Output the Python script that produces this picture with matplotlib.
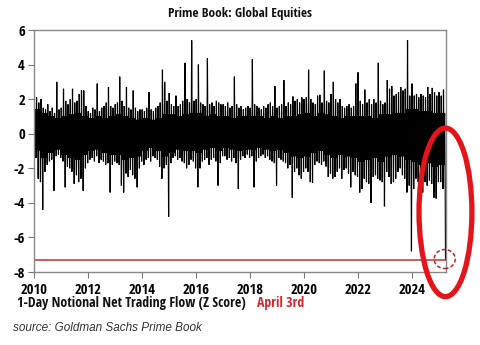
import matplotlib
matplotlib.use("Agg")
import matplotlib.pyplot as plt
import matplotlib.font_manager as fm
from matplotlib.patches import Ellipse

# ---- data: monthly high / low extremes of the daily z-score ----
years = list(range(2010, 2026))
month_hi = {
    2010: [1.6, 2.1, 1.8, 2.0, 1.5, 1.4, 1.7, 1.3, 1.5, 1.2, 3.0, 1.4],
    2011: [1.5, 2.6, 1.9, 1.7, 2.0, 2.6, 1.8, 1.9, 2.3, 2.5, 2.5, 1.6],
    2012: [1.3, 1.2, 1.5, 1.4, 2.9, 1.3, 1.5, 1.6, 1.8, 2.7, 1.6, 1.5],
    2013: [1.7, 1.8, 3.3, 1.9, 1.6, 2.7, 1.5, 1.4, 2.5, 1.5, 1.3, 1.4],
    2014: [1.4, 1.3, 1.5, 2.4, 1.4, 1.3, 1.5, 1.6, 1.8, 3.7, 3.0, 1.9],
    2015: [2.35, 1.7, 1.6, 2.2, 1.6, 1.7, 1.9, 4.1, 2.0, 1.8, 5.4, 1.9],
    2016: [2.0, 4.0, 1.8, 1.7, 1.6, 4.35, 1.7, 1.8, 1.6, 1.9, 1.8, 1.7],
    2017: [1.7, 1.6, 1.8, 1.5, 1.6, 3.3, 1.7, 1.5, 1.6, 1.4, 1.5, 1.6],
    2018: [1.5, 4.3, 1.7, 1.6, 1.5, 1.4, 1.6, 1.5, 1.7, 1.8, 1.6, 2.75],
    2019: [1.5, 1.6, 1.7, 3.1, 1.6, 1.8, 1.7, 2.15, 1.9, 2.0, 1.8, 2.1],
    2020: [2.0, 2.1, 3.7, 2.0, 1.8, 1.7, 2.2, 2.25, 1.8, 3.65, 1.9, 1.8],
    2021: [2.3, 3.0, 2.0, 1.8, 2.0, 1.6, 1.5, 1.6, 1.7, 1.5, 1.6, 2.9],
    2022: [3.55, 1.9, 1.7, 2.55, 1.8, 2.0, 1.7, 2.0, 1.8, 4.1, 1.9, 1.7],
    2023: [1.8, 3.1, 2.6, 2.75, 2.2, 2.3, 2.4, 2.7, 2.5, 2.6, 5.4, 2.2],
    2024: [2.9, 2.2, 2.3, 2.1, 2.3, 2.2, 2.1, 2.7, 2.3, 2.65, 2.4, 2.2],
    2025: [2.4, 2.2, 2.55],
}
month_lo = {
    2010: [-1.4, -2.6, -2.8, -4.4, -2.2, -1.8, -1.6, -1.5, -3.3, -1.3, -1.2, -1.4],
    2011: [-1.6, -3.1, -1.9, -2.0, -2.2, -2.9, -2.4, -2.8, -2.6, -3.3, -2.0, -1.7],
    2012: [-1.5, -1.4, -1.6, -1.3, -1.7, -1.5, -1.6, -1.8, -1.7, -3.4, -1.8, -1.6],
    2013: [-1.7, -1.8, -3.0, -3.4, -2.3, -2.5, -2.1, -2.4, -2.6, -3.1, -2.0, -1.6],
    2014: [-1.8, -1.5, -1.4, -1.6, -1.3, -1.4, -1.5, -1.9, -2.6, -2.0, -1.8, -4.8],
    2015: [-1.7, -1.4, -1.3, -1.5, -1.4, -1.6, -1.7, -2.0, -1.8, -1.5, -1.6, -2.0],
    2016: [-3.1, -2.0, -1.6, -1.5, -1.4, -1.8, -1.5, -1.4, -1.6, -3.0, -1.7, -1.3],
    2017: [-1.3, -1.5, -1.4, -1.6, -1.4, -1.7, -3.2, -1.5, -1.3, -1.4, -1.2, -1.4],
    2018: [-1.3, -3.1, -1.6, -1.4, -1.3, -1.2, -1.4, -1.3, -1.5, -1.6, -1.7, -3.0],
    2019: [-1.4, -1.5, -1.6, -1.7, -2.0, -1.8, -3.7, -2.2, -2.0, -2.4, -2.6, -2.2],
    2020: [-2.0, -2.2, -2.8, -2.85, -1.8, -1.6, -1.7, -1.8, -1.6, -1.9, -2.5, -2.3],
    2021: [-2.6, -2.5, -2.2, -2.0, -2.6, -2.1, -2.0, -2.3, -3.1, -2.2, -2.4, -2.5],
    2022: [-3.4, -3.2, -2.6, -2.8, -2.9, -4.0, -2.5, -2.4, -2.6, -2.7, -2.8, -4.2],
    2023: [-2.2, -2.5, -2.9, -2.8, -2.6, -2.2, -2.0, -2.4, -2.6, -3.4, -3.0, -6.8],
    2024: [-3.2, -2.6, -2.8, -3.0, -3.4, -2.8, -3.0, -2.7, -2.9, -3.7, -3.75, -2.8],
    2025: [-2.8, -3.2, -3.0],
}
# typical (dense-core) daily swing per quarter, read from the solid part of the band
core_hi = {
    2010: [1.4, 1.2, 1.0, 0.9], 2011: [1.0, 1.1, 1.2, 1.0], 2012: [0.9, 1.0, 0.9, 1.0],
    2013: [1.1, 1.0, 0.9, 0.8], 2014: [0.9, 0.8, 0.9, 1.1], 2015: [1.1, 1.0, 1.1, 1.2],
    2016: [1.2, 1.0, 1.1, 1.0], 2017: [1.0, 0.9, 1.0, 1.0], 2018: [1.0, 1.0, 0.9, 1.0],
    2019: [0.9, 1.0, 1.0, 1.1], 2020: [1.2, 1.0, 1.2, 1.1], 2021: [1.0, 0.9, 1.0, 1.0],
    2022: [1.0, 1.0, 0.9, 1.1], 2023: [1.1, 1.2, 1.2, 1.4], 2024: [1.4, 1.3, 1.3, 1.2],
    2025: [1.2],
}
core_lo = {
    2010: [-1.0, -1.4, -1.1, -0.9], 2011: [-1.2, -1.4, -1.5, -1.2], 2012: [-1.0, -0.9, -1.1, -1.2],
    2013: [-1.2, -1.5, -1.4, -1.3], 2014: [-1.0, -0.8, -1.0, -1.3], 2015: [-1.1, -0.9, -1.0, -1.0],
    2016: [-1.1, -0.9, -0.8, -1.0], 2017: [-0.8, -0.9, -1.0, -0.9], 2018: [-0.9, -0.8, -0.9, -1.0],
    2019: [-0.9, -1.1, -1.3, -1.4], 2020: [-1.3, -1.1, -1.0, -1.2], 2021: [-1.4, -1.2, -1.3, -1.4],
    2022: [-1.6, -1.5, -1.4, -1.6], 2023: [-1.3, -1.2, -1.3, -1.5], 2024: [-1.6, -1.8, -1.7, -1.9],
    2025: [-1.8],
}
start_value = 0.5
april3_value = -7.3
april3_x = 2025 + 92 / 365.0
xticks = [2010, 2012, 2014, 2016, 2018, 2020, 2022, 2024]
yticks = [-8, -6, -4, -2, 0, 2, 4, 6]

# ---- build the line ----
xs = [2010.0]
ys = [start_value]
for yr in years:
    for m, (h, l) in enumerate(zip(month_hi[yr], month_lo[yr])):
        q = m // 3
        xs += [yr + (m + f) / 12.0 for f in (0.125, 0.375, 0.625, 0.875)]
        ys += [h, core_lo[yr][q], core_hi[yr][q], l]
xs.append(april3_x)
ys.append(april3_value)


# ---- fonts: look for a condensed / narrow sans ----
def find_font(bold, italic=False):
    best = None
    for f in fm.fontManager.ttflist:
        narrow = ("Narrow" in f.name or "Condensed" in f.name
                  or f.stretch in ("condensed", "semi-condensed", "extra-condensed")
                  or "Condensed" in f.fname or "Narrow" in f.fname)
        if not narrow:
            continue
        w = f.weight
        isbold = (w in ("bold", "heavy", "black", "demibold", "semibold")
                  or (isinstance(w, int) and w >= 600))
        if isbold != bold:
            continue
        if (f.style != "normal") != italic:
            continue
        if "Liberation" in f.name:
            score = 0
        elif "DejaVu" in f.name:
            score = 3
        elif "Roboto" in f.name or "Open Sans" in f.name:
            score = 1
        else:
            score = 2
        if best is None or score < best[0]:
            best = (score, f.fname, f.name)
    return best


bold_font = find_font(True)
if bold_font is not None:
    BP = dict(fontproperties=fm.FontProperties(fname=bold_font[1]))
    narrow_ok = bold_font[0] < 3
else:
    BP = dict(family=["Roboto", "DejaVu Sans"], fontweight="bold")
    narrow_ok = False


def bp(size_narrow, size_other):
    size = size_narrow if narrow_ok else size_other
    d = dict(BP)
    if "fontproperties" in d:
        fp = d["fontproperties"].copy()
        fp.set_size(size)
        d["fontproperties"] = fp
    else:
        d["fontsize"] = size
    return d


fig = plt.figure(figsize=(4.8, 3.45), dpi=100)
ax = fig.add_axes([34 / 480, 1 - 272 / 345, 412 / 480, 242 / 345])

ax.plot(xs, ys, color="black", lw=0.85, solid_joinstyle="miter")
ax.axhline(april3_value, color="#c8302c", lw=1.1)

ax.set_xlim(2010, 2025.27)
ax.set_ylim(-8, 6)
ax.set_xticks(xticks)
ax.set_yticks(yticks)
ax.set_xticklabels([str(t) for t in xticks], **bp(10.5, 9))
ax.set_yticklabels([str(t) for t in yticks], **bp(10.5, 9))
ax.tick_params(axis="x", length=4, width=0.8, color="#777777", pad=4)
ax.tick_params(axis="y", length=4, width=0.8, color="#777777", pad=2.5)
for s in ax.spines.values():
    s.set_color("#888888")
    s.set_linewidth(1.0)

ell = Ellipse((2025.25, -4.55), 1.96, 9.75, fill=False, edgecolor="#e4141b",
              lw=3.8, clip_on=False, zorder=5)
ax.add_patch(ell)
circ = Ellipse((april3_x - 0.03, -7.25), 0.78, 1.1, fill=False, edgecolor="#b3262a",
               lw=1.1, linestyle=(0, (2.5, 1.5)), clip_on=False, zorder=6)
ax.add_patch(circ)

fig.text(0.5, 1 - 14 / 345, "Prime Book: Global Equities", ha="center", va="center",
         color="#111111", **bp(9.5, 7.6))
fig.text(17 / 480, 1 - 303 / 345, "1-Day Notional Net Trading Flow (Z Score)",
         ha="left", va="center", color="#111111", **bp(10, 7.7))
fig.text(257 / 480, 1 - 303 / 345, "April 3rd", ha="left", va="center",
         color="#d7262b", **bp(10, 7.7))
fig.text(13 / 480, 1 - 328 / 345, "source: Goldman Sachs Prime Book", ha="left",
         va="center", fontsize=8.5, style="italic", color="#333333",
         family=["Liberation Sans", "DejaVu Sans"])

fig.savefig("out.png", dpi=100)
